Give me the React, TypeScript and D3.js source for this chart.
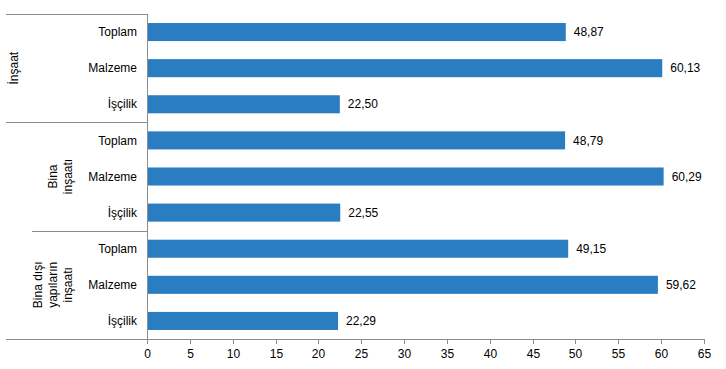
import React from 'react'
import * as d3 from 'd3'

// data
const groups = ['İnşaat', 'Bina inşaatı', 'Bina dışı yapıların inşaatı']
const groupLines = [['İnşaat'], ['Bina', 'inşaatı'], ['Bina dışı', 'yapıların', 'inşaatı']]
const categories = ['Toplam', 'Malzeme', 'İşçilik']
const insaat = [48.87, 60.13, 22.5]
const bina = [48.79, 60.29, 22.55]
const binaDisi = [49.15, 59.62, 22.29]
const xTicks = [0, 5, 10, 15, 20, 25, 30, 35, 40, 45, 50, 55, 60, 65]

const seriesByGroup = [insaat, bina, binaDisi]

const width = 726
const height = 369
const margin = { top: 14, right: 22, bottom: 30, left: 147 }
const barColor = '#2B7DC2'
const axisColor = '#8c8c8c'
const font = 'Arial, "Liberation Sans", sans-serif'

const rows = groups.flatMap((g, gi) =>
    categories.map((c, ci) => ({ key: `${gi}-${ci}`, group: gi, category: c, value: seriesByGroup[gi][ci] }))
)

const App = () => {
    const x = d3
        .scaleLinear()
        .domain([0, 65])
        .range([margin.left, width - margin.right])

    const y = d3
        .scaleBand()
        .domain(rows.map(r => r.key))
        .range([margin.top, height - margin.bottom])
        .paddingInner(0.5)
        .paddingOuter(0.25)

    const step = y.step()
    const groupTop = (gi: number) => y(`${gi}-0`)! - step * 0.25
    const groupBottom = (gi: number) => y(`${gi}-2`)! + y.bandwidth() + step * 0.25
    const fmt = (v: number) => v.toFixed(2).replace('.', ',')
    const lineStarts = [6, 6, 32, 6]
    const bottom = height - margin.bottom

    return (
        <svg width={width} height={height} style={{ position: 'absolute', left: 0, top: 0 }}>
            <rect width={width} height={height} fill='#fff' />
            {/* group separators */}
            {[0, 1, 2].map(gi => (
                <line key={'sep' + gi} x1={lineStarts[gi]} x2={margin.left}
                    y1={Math.round(groupTop(gi)) + 0.5} y2={Math.round(groupTop(gi)) + 0.5}
                    stroke={axisColor} />
            ))}
            <line x1={lineStarts[3]} x2={margin.left} y1={bottom + 0.5} y2={bottom + 0.5} stroke={axisColor} />
            {/* y axis */}
            <line x1={margin.left + 0.5} x2={margin.left + 0.5} y1={margin.top} y2={bottom + 5} stroke={axisColor} />
            {/* x axis */}
            <line x1={margin.left} x2={x(65)} y1={bottom + 0.5} y2={bottom + 0.5} stroke={axisColor} />
            {xTicks.map(t => (
                <g key={t} transform={`translate(${Math.round(x(t)) + 0.5}, ${bottom})`}>
                    <line y1={0} y2={5} stroke={axisColor} />
                    <text y={19} textAnchor='middle' fontSize={12} fontFamily={font} fill='#000'>{t}</text>
                </g>
            ))}
            {/* bars */}
            {rows.map(r => (
                <g key={r.key}>
                    <rect x={x(0) + 1} y={y(r.key)} width={x(r.value) - x(0) - 1} height={y.bandwidth()} fill={barColor} />
                    <text x={x(r.value) + 8} y={y(r.key)! + y.bandwidth() / 2} dy='0.35em'
                        fontSize={12} fontFamily={font} fill='#000'>{fmt(r.value)}</text>
                    <text x={137} y={y(r.key)! + y.bandwidth() / 2} dy='0.35em' textAnchor='end'
                        fontSize={12} fontFamily={font} fill='#000'>{r.category}</text>
                </g>
            ))}
            {/* group labels */}
            {groupLines.map((lines, gi) => {
                const cy = (groupTop(gi) + groupBottom(gi)) / 2
                const lastX = 68
                return lines.map((ln, li) => {
                    const lx = gi === 0 ? 14 : lastX - (lines.length - 1 - li) * 15
                    return (
                        <text key={gi + '-' + li} transform={`translate(${lx}, ${cy}) rotate(-90)`}
                            textAnchor='middle' dy='0.35em' fontSize={12} fontFamily={font} fill='#000'>{ln}</text>
                    )
                })
            })}
        </svg>
    )
}

export default App
